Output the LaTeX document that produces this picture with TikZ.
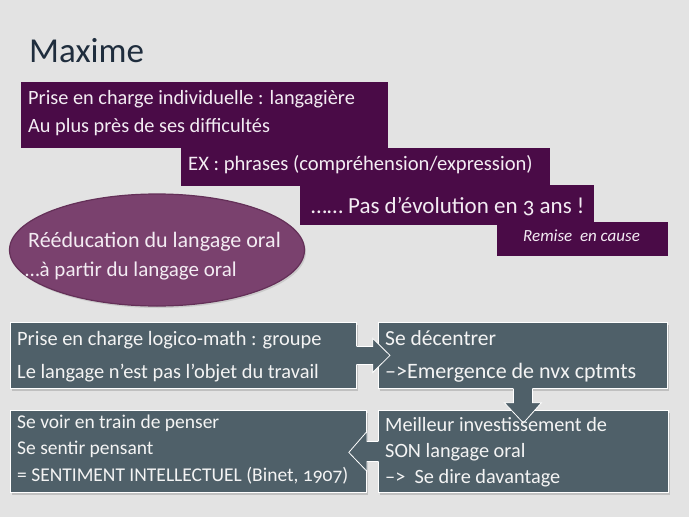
\documentclass[tikz,border=0pt]{standalone}
\usepackage{fontspec}
\setmainfont{Carlito}[Numbers=OldStyle]
\usetikzlibrary{shadows,shapes.geometric,calc}
\definecolor{bg}{HTML}{E3E3E3}
\definecolor{plum}{HTML}{4A0B47}
\definecolor{ellc}{HTML}{7A416E}
\definecolor{elld}{HTML}{643058}
\definecolor{slate}{HTML}{4F6069}
\definecolor{titlec}{HTML}{1F2D3D}
\definecolor{ptxt}{HTML}{F3ECF3}
\definecolor{stxt}{HTML}{F4F4F4}
\newcommand{\fs}[1]{\fontsize{#1}{#1}\selectfont}
\begin{document}
\begin{tikzpicture}[x=1pt,y=-1pt,
  pbox/.style={fill=plum, inner sep=0, anchor=north west},
  sbox/.style={fill=slate, draw=white, line width=0.8pt, inner sep=0, anchor=north west,
    drop shadow={shadow xshift=2pt,shadow yshift=-2.5pt,opacity=0.35}},
  ptext/.style={anchor=base west, text=ptxt, inner sep=0},
  stext/.style={anchor=base west, text=stxt, inner sep=0},
  blockarrow/.style={fill=slate},
  arrowedge/.style={draw=white, line width=0.8pt, line join=miter},
]
\fill[bg] (0,0) rectangle (689,517);
\useasboundingbox (0,0) rectangle (689,517);

% title
\node[anchor=base west, text=titlec, inner sep=0, font=\fs{35}] (title) at (29,62) {Maxime};

% purple staircase
\node[pbox, minimum width=367pt, minimum height=66pt] (boxA) at (21,82) {};
\node[pbox, minimum width=369pt, minimum height=38pt] (boxB) at (181,148) {};
\node[pbox, minimum width=294pt, minimum height=40pt] (boxC) at (300,185) {};
\node[pbox, minimum width=171pt, minimum height=34pt] (boxD) at (497,222) {};

\node[ptext, font=\fs{20.3}] (a1) at (28,104) {Prise en charge individuelle : langagière};
\node[ptext, font=\fs{20.3}] (a2) at (28,132) {Au plus près de ses difficultés};
\node[ptext, font=\fs{20.6}] (b1) at (188,170) {EX : phrases (compréhension/expression)};
\node[ptext, font=\fs{23}] (c1) at (311,213) {…… Pas d’évolution en 3 ans !};
\node[ptext, font=\fs{17}\itshape] (d1) at (523,241) {Remise\ \ en cause};

% ellipse
\node[ellipse, fill=ellc, draw=elld, line width=1.2pt, minimum width=295pt, minimum height=112pt,
  drop shadow={shadow xshift=1.5pt,shadow yshift=-2pt,opacity=0.25}] (ell) at (157,250) {};
\node[ptext, font=\fs{22}] (e1) at (28,247) {Rééducation du langage oral};
\node[ptext, font=\fs{21}] (e2) at (25,276) {…à partir du langage oral};

% slate boxes
\node[sbox, minimum width=346pt, minimum height=66pt] (E) at (10,322) {};
\node[sbox, minimum width=289pt, minimum height=66pt] (F) at (378,322) {};
\node[sbox, minimum width=356pt, minimum height=82pt] (G) at (10,410) {};
\node[sbox, minimum width=290pt, minimum height=82pt] (H) at (378,410) {};

% arrow E -> F
\fill[blockarrow] ($(E.east)+(-4,-9)$) -- ($(E.east)+(16,-9)$) -- ($(E.east)+(16,-17)$)
  -- ($(F.west)+(12,0)$) -- ($(E.east)+(16,17)$) -- ($(E.east)+(16,9)$) -- ($(E.east)+(-4,9)$) -- cycle;
\draw[arrowedge] ($(E.east)+(0,-9)$) -- ($(E.east)+(16,-9)$) -- ($(E.east)+(16,-17)$)
  -- ($(F.west)+(12,0)$) -- ($(E.east)+(16,17)$) -- ($(E.east)+(16,9)$) -- ($(E.east)+(0,9)$);
% arrow F -> H
\fill[blockarrow] ($(F.south)+(-9.5,-4)$) -- ($(F.south)+(-9.5,14)$) -- ($(F.south)+(-18.5,14)$)
  -- ($(H.north)+(0,13)$) -- ($(F.south)+(18.5,14)$) -- ($(F.south)+(9.5,14)$) -- ($(F.south)+(9.5,-4)$) -- cycle;
\draw[arrowedge] ($(F.south)+(-9.5,0)$) -- ($(F.south)+(-9.5,14)$) -- ($(F.south)+(-18.5,14)$)
  -- ($(H.north)+(0,13)$) -- ($(F.south)+(18.5,14)$) -- ($(F.south)+(9.5,14)$) -- ($(F.south)+(9.5,0)$);
% arrow H -> G
\fill[blockarrow] ($(H.west)+(4,-10)$) -- ($(H.west)+(-11,-10)$) -- ($(H.west)+(-11,-20)$)
  -- ($(G.east)+(-18,1)$) -- ($(H.west)+(-11,20)$) -- ($(H.west)+(-11,10)$) -- ($(H.west)+(4,10)$) -- cycle;
\draw[arrowedge] ($(H.west)+(0,-10)$) -- ($(H.west)+(-11,-10)$) -- ($(H.west)+(-11,-20)$)
  -- ($(G.east)+(-18,1)$) -- ($(H.west)+(-11,20)$) -- ($(H.west)+(-11,10)$) -- ($(H.west)+(0,10)$);

% slate texts
\node[stext, font=\fs{20.4}] (t1) at (17,345) {Prise en charge logico-math : groupe};
\node[stext, font=\fs{20.4}] (t2) at (17,378) {Le langage n’est pas l’objet du travail};
\node[stext, font=\fs{21.5}] (t3) at (385,345) {Se décentrer};
\node[stext, font=\fs{22}] (t4) at (385,378) {–>Emergence de nvx cptmts};
\node[stext, font=\fs{19.5}] (t5) at (17,428) {Se voir en train de penser};
\node[stext, font=\fs{19.5}] (t6) at (17,454) {Se sentir pensant};
\node[stext, font=\fs{19.5}] (t7) at (17,481) {= SENTIMENT INTELLECTUEL (Binet, 1907)};
\node[stext, font=\fs{20.3}] (t8) at (385,431) {Meilleur investissement de};
\node[stext, font=\fs{20.3}] (t9) at (385,457) {SON langage oral};
\node[stext, font=\fs{20.3}] (t10) at (385,483) {–>\ \ Se dire davantage};
\end{tikzpicture}
\end{document}
